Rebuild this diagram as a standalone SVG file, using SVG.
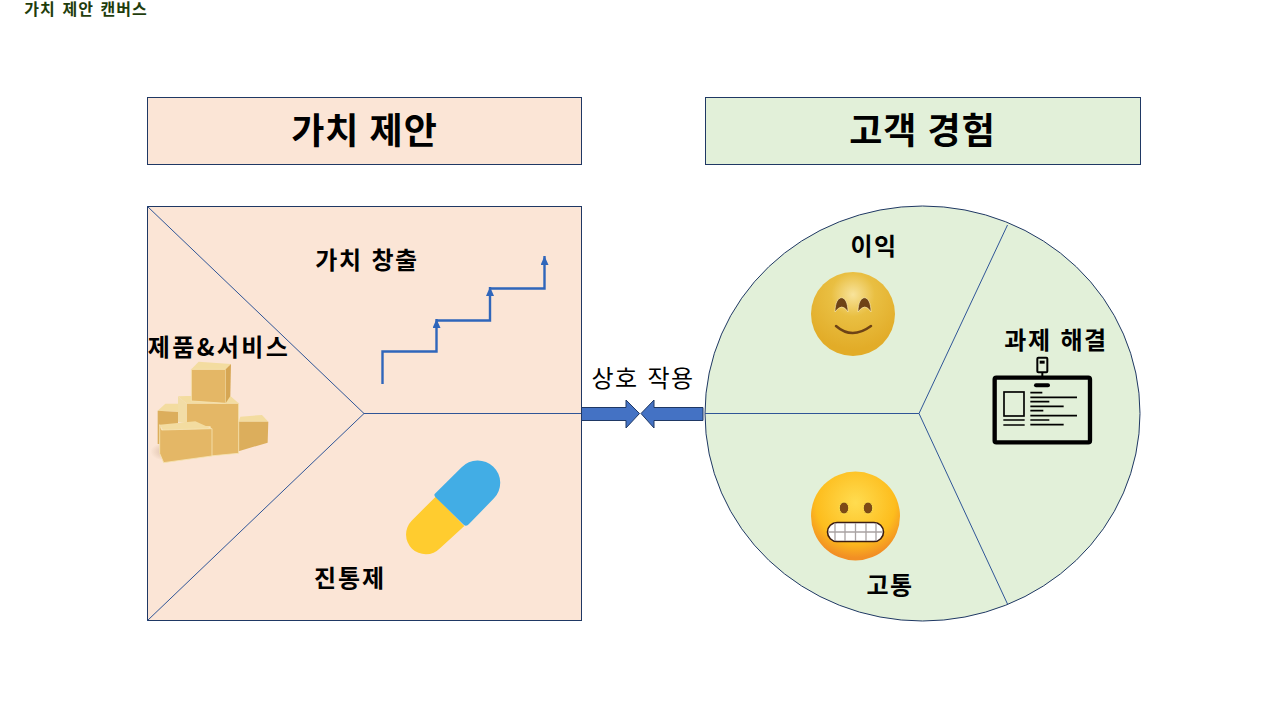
<svg xmlns="http://www.w3.org/2000/svg" width="1280" height="716" viewBox="0 0 1280 716">
<style>
text{font-family:"Noto Sans CJK KR","Noto Sans",sans-serif;font-weight:700;fill:#000;text-anchor:middle}
.h{font-size:36px;letter-spacing:1px;word-spacing:1px}.m{font-size:24px;letter-spacing:1.500px;word-spacing:2px}
.o{stroke:#1f3864;stroke-width:1}
.l{stroke:#2f5597;stroke-width:1;fill:none}
.t{fill:#f3dca0}.f{fill:#e4b766;stroke:#f6e4b4;stroke-width:2.500}.s{fill:#d6a653}.e{fill:#dcae5c}
</style>
<defs>
<radialGradient id="hap" cx="50%" cy="27%" r="65%"><stop offset="0" stop-color="#f8e39b"/><stop offset=".4" stop-color="#e9bf42"/><stop offset="1" stop-color="#e2ac28"/></radialGradient>
<radialGradient id="gri" cx="50%" cy="35%" r="62%"><stop offset="0" stop-color="#ffdc50"/><stop offset=".72" stop-color="#fdbd1d"/><stop offset="1" stop-color="#f28f24"/></radialGradient>
<radialGradient id="shadow"><stop offset="0" stop-color="#b89070" stop-opacity=".5"/><stop offset="1" stop-color="#b89070" stop-opacity="0"/></radialGradient>
<marker id="up" markerWidth="9" markerHeight="8" refX="9" refY="4" orient="auto" viewBox="0 0 9 8" markerUnits="userSpaceOnUse"><path d="M9 4L0 8V0Z" fill="#2f66bb"/></marker>
</defs>
<rect width="1280" height="716" fill="#fff"/>
<text id="page-title" x="86" y="14.500" style="font-size:16px;letter-spacing:1px;word-spacing:2px;fill:#1f3d0c">가치 제안 캔버스</text>
<g id="value-header"><rect class="o" x="147.500" y="97.500" width="434" height="67" fill="#fbe5d6"/><text class="h" x="364.500" y="144">가치 제안</text></g>
<g id="customer-header"><rect class="o" x="705.500" y="97.500" width="435" height="67" fill="#e2f0d9"/><text class="h" x="922.500" y="144">고객 경험</text></g>
<g id="value-canvas"><rect class="o" x="147.500" y="206.500" width="434" height="414" fill="#fbe5d6"/></g>
<g id="customer-canvas"><ellipse class="o" cx="922.500" cy="413.500" rx="217.500" ry="207.500" fill="#e2f0d9"/></g>
<g id="connectors">
<path class="l" d="M147.500 206.500L364 413.500L147.500 620.500M364 413.500H581"/>
<path class="l" d="M705 413.500H919L1007.500 225M919 413.500L1007.500 604"/>
<path d="M382.500 384V351.500H436.500V319" fill="none" stroke="#2f66bb" stroke-width="2.400" marker-end="url(#up)"/>
<path d="M436.500 320.500H490V287" fill="none" stroke="#2f66bb" stroke-width="2.400" marker-end="url(#up)"/>
<path d="M490 288.500H544.500V256" fill="none" stroke="#2f66bb" stroke-width="2.400" marker-end="url(#up)"/>
<path d="M581.500 407.500H626V400L639.500 413.500L626 428V420.500H581.500Z" fill="#4472c4" stroke="#1f3864"/>
<path d="M703 407.500H654V400L641 413.500L654 428V420.500H703Z" fill="#4472c4" stroke="#1f3864"/>
</g>
<g id="value-creation"><text class="m" x="367" y="269">가치 창출</text></g>
<g id="products"><text class="m" x="219" y="356" style="letter-spacing:2.400px">제품&amp;서비스</text>
<g transform="translate(147 320) scale(.3333)">
<ellipse cx="60" cy="395" rx="50" ry="28" fill="url(#shadow)"/>
<path class="t" d="M32 272L55 251H93V276Z"/><path class="e" d="M32 272L93 276V320L40 320L38 372L32 372Z"/>
<path class="t" d="M275 305L280 290L345 285L364 305Z"/><path class="e" d="M270 305H364L362 368L270 395Z"/>
<path class="t" d="M93 229L120 228H250L275 250H118Z"/><path class="f" d="M118 250H275V400L190 408V320L118 320Z"/><path d="M93 229L118 250V310L93 305Z" fill="#f2dda6"/>
<path class="t" d="M133 148L155 125L252 132L236 148Z"/><path class="f" d="M133 148H236V250L133 243Z"/><path class="s" d="M236 148L252 132L250 228L236 250Z"/>
<path class="t" d="M38 314L145 304L195 326L48 331Z"/><path class="f" d="M44 330L195 326V408L50 428L38 400V314Z"/>
</g></g>
<g id="pain-reliever"><text class="m" x="350" y="587" style="letter-spacing:2px">진통제</text>
<g transform="translate(395 450) scale(.3333)">
<path d="M122 140L208 228L135 295A56 56 0 0 1 50 212Z" fill="#ffcc2f"/>
<path d="M119 132L200 52A63 63 0 0 1 297 145L222 222Q214 231 206 224L123 143Q116 137 119 132Z" fill="#42ade5"/>
</g></g>
<text id="interaction" x="643" y="387" style="font-size:24px;font-weight:400;letter-spacing:1.500px;word-spacing:2px">상호 작용</text>
<g id="gains"><text class="m" x="874" y="255">이익</text>
<circle cx="853" cy="314" r="42" fill="url(#hap)"/>
<path d="M835 312C835 293 848 293 848 312Q842 302 835 312ZM858 312C858 293 871 293 871 312Q865 302 858 312Z" fill="#6e4316" stroke="#fff2c0" stroke-width=".6"/>
<path d="M836 326Q852 340 871 326" fill="none" stroke="#6e4316" stroke-width="2.500" stroke-linecap="round"/>
</g>
<g id="pains"><text class="m" x="890" y="594">고통</text>
<circle cx="855.500" cy="516" r="44.500" fill="url(#gri)"/>
<ellipse cx="844" cy="508" rx="4.800" ry="6" fill="#7d4a16" stroke="#ffe14d"/><ellipse cx="868" cy="508" rx="4.800" ry="6" fill="#7d4a16" stroke="#ffe14d"/>
<rect x="827.500" y="522.500" width="56" height="19" rx="9.500" fill="#fff" stroke="#3b1d14" stroke-width="1.600"/>
<path d="M828 532H883M835 523V541M845 523V541M855.500 523V541M866 523V541M876 523V541" stroke="#a9a3a3" stroke-width="1.300" fill="none"/>
</g>
<g id="jobs"><text class="m" x="1056" y="349">과제 해결</text>
<g transform="translate(980 320) scale(.3333)" fill="none" stroke="#000">
<rect x="44" y="173" width="286" height="194" rx="5" stroke-width="13" fill="#e2f0d9"/>
<rect x="172" y="113" width="30" height="44" rx="3" stroke-width="6"/>
<path d="M187 157V172" stroke-width="6"/>
<rect x="179" y="122" width="15" height="9" fill="#000" stroke="none"/>
<rect x="162" y="190" width="48" height="12" rx="6" fill="#000" stroke="none"/>
<rect x="72" y="216" width="60" height="72" stroke-width="5"/>
<path d="M70 300H134M70 315H134M151 218H187M151 232H291M151 245H208M151 259H251M151 272H190M151 287H291M151 300H208M151 314H251" stroke-width="5"/>
</g></g>
</svg>
